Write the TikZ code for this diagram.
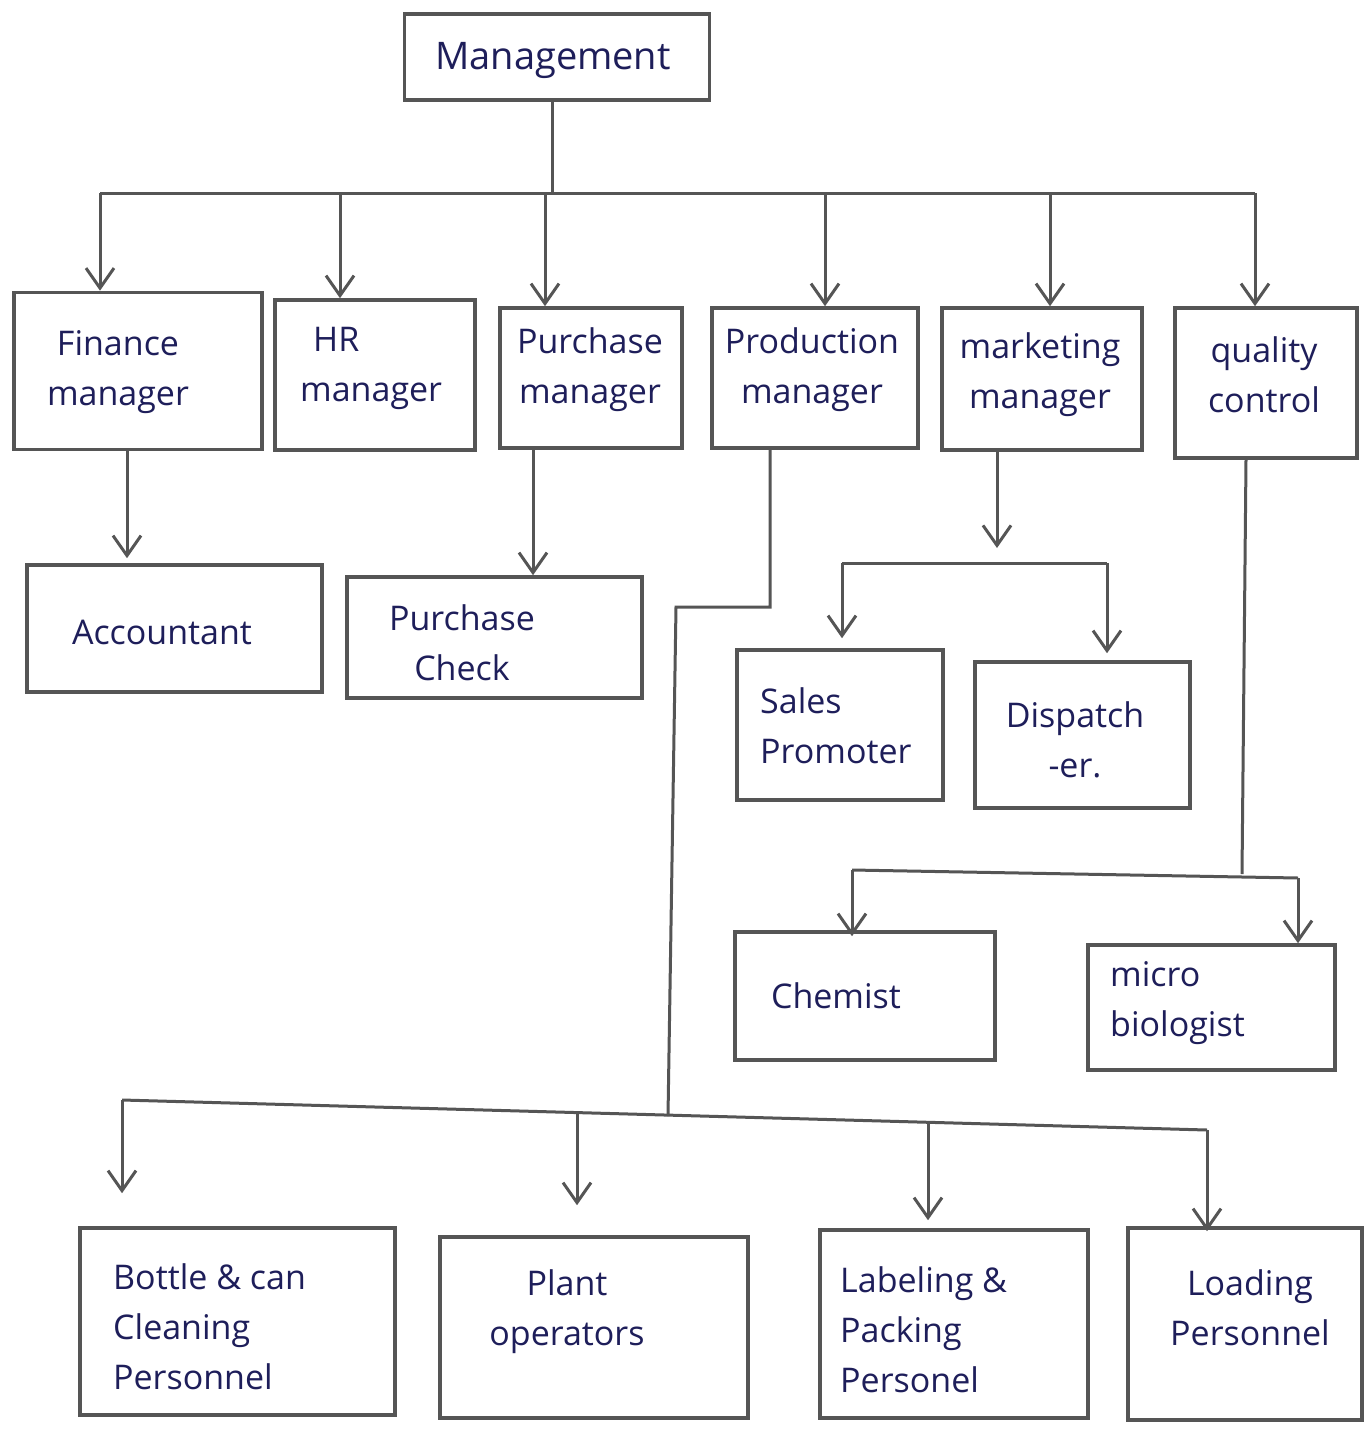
\documentclass[tikz,border=0pt]{standalone}
\usepackage{fontspec}
\setmainfont{Open Sans}
\usetikzlibrary{arrows.meta}
\definecolor{ink}{HTML}{1E1E5A}
\definecolor{pen}{HTML}{555555}
\begin{document}
\begin{tikzpicture}[x=1pt,y=-1pt,
  box/.style={draw=pen,line width=3.6pt,inner sep=0pt},
  lbl/.style={text=ink,font=\fontsize{34}{50}\selectfont,inner sep=0pt,align=left},
  ln/.style={draw=pen,line width=3pt},
  arr/.style={ln,-{Straight Barb[length=20pt,width=28pt,line width=3pt]}}]
\fill[white] (0,0) rectangle (1369,1438);
\useasboundingbox (0,0) rectangle (1369,1438);

% boxes
\node[box,minimum width=305pt,minimum height=86pt] (mgmt) at (557,57) {};
\node[box,minimum width=248pt,minimum height=157pt] (fin) at (138,371) {};
\node[box,minimum width=200pt,minimum height=150pt] (hr) at (375,375) {};
\node[box,minimum width=182pt,minimum height=140pt] (pur) at (591,378) {};
\node[box,minimum width=206pt,minimum height=140pt] (prod) at (815,378) {};
\node[box,minimum width=200pt,minimum height=142pt] (mkt) at (1042,379) {};
\node[box,minimum width=182pt,minimum height=150pt] (qc) at (1266,383) {};
\node[box,minimum width=295pt,minimum height=127pt] (acc) at (174.5,628.5) {};
\node[box,minimum width=295pt,minimum height=121pt] (pchk) at (494.5,637.5) {};
\node[box,minimum width=206pt,minimum height=150pt] (sales) at (840,725) {};
\node[box,minimum width=215pt,minimum height=146pt] (disp) at (1082.5,735) {};
\node[box,minimum width=260pt,minimum height=128pt] (chem) at (865,996) {};
\node[box,minimum width=247pt,minimum height=125pt] (micro) at (1211.5,1007.5) {};
\node[box,minimum width=315pt,minimum height=187pt] (bottle) at (237.5,1321.5) {};
\node[box,minimum width=308pt,minimum height=181pt] (plant) at (594,1327.5) {};
\node[box,minimum width=268pt,minimum height=188pt] (label) at (954,1324) {};
\node[box,minimum width=234pt,minimum height=192pt] (load) at (1245,1324) {};

% texts
\node[lbl,font=\fontsize{38}{50}\selectfont] (mgmt-t) at (553,60) {Management};
\node[lbl,align=center] (fin-t) at (118,372) {Finance\\manager};
\node[lbl,anchor=west] (hr-t) at (300,368) {\hspace{13pt}HR\\manager};
\node[lbl,align=center] (pur-t) at (590,370) {Purchase\\manager};
\node[lbl,align=center] (prod-t) at (812,370) {Production\\manager};
\node[lbl,align=center] (mkt-t) at (1040,375) {marketing\\manager};
\node[lbl,align=center] (qc-t) at (1264,375) {quality\\control};
\node[lbl] (acc-t) at (162,632) {Accountant};
\node[lbl,align=center] (pchk-t) at (462,643) {Purchase\\Check};
\node[lbl,anchor=west] (sales-t) at (760,726) {Sales\\Promoter};
\node[lbl,align=center] (disp-t) at (1075,740) {Dispatch\\-er.};
\node[lbl] (chem-t) at (836,996) {Chemist};
\node[lbl,anchor=west] (micro-t) at (1110,1003) {micro\\biologist};
\node[lbl,anchor=west] (bottle-t) at (113,1327) {Bottle \& can\\Cleaning\\Personnel};
\node[lbl,align=center] (plant-t) at (567,1312) {Plant\\operators};
\node[lbl,anchor=west] (label-t) at (840,1330) {Labeling \&\\Packing\\Personel};
\node[lbl,align=center] (load-t) at (1250,1308) {Loading\\Personnel};

% top bus
\coordinate (tb) at (552,193);
\coordinate (t1) at (100,193);
\coordinate (t2) at (340,193);
\coordinate (t3) at (545,193);
\coordinate (t4) at (825,193);
\coordinate (t5) at (1050,193);
\coordinate (t6) at (1255,193);
\draw[ln] (mgmt.south -| tb) -- (tb);
\draw[ln] (t1) -- (t6);
\draw[arr] (t1) -- (t1 |- fin.north);
\draw[arr] (t2) -- (t2 |- hr.north);
\draw[arr] (t3) -- (t3 |- pur.north);
\draw[arr] (t4) -- (t4 |- prod.north);
\draw[arr] (t5) -- (t5 |- mkt.north);
\draw[arr] (t6) -- (t6 |- qc.north);

% finance, purchase
\coordinate (f1) at (127,450);
\draw[arr,shorten >=5pt] (f1 |- fin.south) -- (f1 |- acc.north);
\coordinate (u1) at (533,448);
\draw[arr] (u1 |- pur.south) -- (u1 |- pchk.north);

% marketing
\coordinate (m0) at (997,450);
\coordinate (m1) at (997,548);
\draw[arr] (m0 |- mkt.south) -- (m1);
\coordinate (ms1) at (842,563);
\coordinate (ms2) at (1107,563);
\draw[ln] (ms1) -- (ms2);
\draw[arr,shorten >=10pt] (ms1) -- (ms1 |- sales.north);
\draw[arr,shorten >=7pt] (ms2) -- (ms2 |- disp.north);

% quality control
\coordinate (q0) at (1246,458);
\coordinate (q1) at (1242,874);
\coordinate (qs1) at (852,870);
\coordinate (qs2) at (1298,878);
\draw[ln] (q0 |- qc.south) -- (q1);
\draw[ln] (qs1) -- (qs2);
\draw[arr,shorten >=-6pt] (qs1) -- (qs1 |- chem.north);
\draw[arr] (qs2) -- (qs2 |- micro.north);

% production
\coordinate (p0) at (770,448);
\coordinate (p1) at (770,607);
\coordinate (p2) at (676,607);
\coordinate (p3) at (668,1116);
\draw[ln] (p0 |- prod.south) -- (p1) -- (p2) -- (p3);
\coordinate (bb1) at (122,1100);
\coordinate (bb2) at (577,1113);
\coordinate (bb3) at (928,1122);
\coordinate (bb4) at (1207,1130);
\draw[ln] (bb1) -- (bb4);
\draw[arr,shorten >=33pt] (bb1) -- (bb1 |- bottle.north);
\draw[arr,shorten >=30pt] (bb2) -- (bb2 |- plant.north);
\draw[arr,shorten >=8pt] (bb3) -- (bb3 |- label.north);
\draw[arr,shorten >=-5pt] (bb4) -- (bb4 |- load.north);
\end{tikzpicture}
\end{document}
